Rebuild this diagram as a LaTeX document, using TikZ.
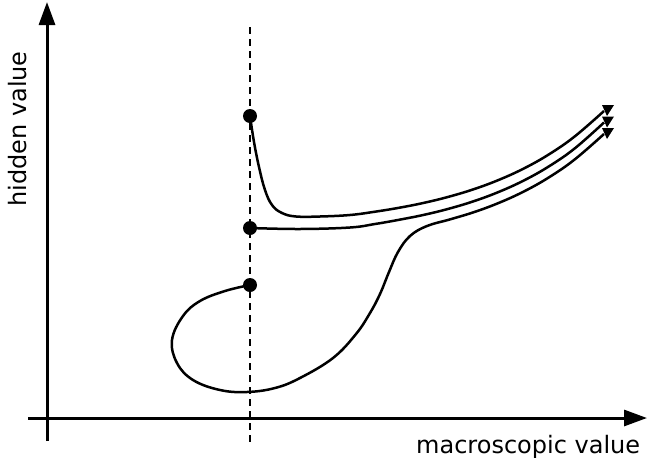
\documentclass[tikz,border=0pt]{standalone}
\usepackage{fontspec}
\setmainfont{DejaVu Sans}
\usetikzlibrary{arrows.meta}
\tikzset{
  axis/.style={line width=3pt,-{Triangle[length=23pt,width=16pt]}},
  curve/.style={line width=2.5pt,line join=round},
  dashv/.style={line width=2.2pt,dash pattern=on 7pt off 5pt},
  dot/.style={circle,fill=black,minimum size=14pt,inner sep=0pt},
  head/.style={fill=black},
  lbl/.style={font=\fontsize{24}{28}\selectfont,inner sep=0pt}
}
\begin{document}
\begin{tikzpicture}[x=1pt,y=-1pt]
\useasboundingbox (0,0) rectangle (648,461);
% axes
\coordinate (xs) at (28,418);
\coordinate (xe) at (647,418);
\coordinate (ys) at (47,441);
\coordinate (ye) at (47,2);
\draw[axis] (xs) -- (xe);
\draw[axis] (ys) -- (ye);
\node[lbl,anchor=base west] (xl) at (416,453) {macroscopic value};
\node[lbl,anchor=base west,rotate=90] (yl) at (27,207) {hidden value};
% dashed line
\coordinate (dt) at (250,27);
\coordinate (db) at (250,445);
\draw[dashv] (dt) -- (db);
% dots
\node[dot] (p1) at (250,116) {};
\node[dot] (p2) at (250,228) {};
\node[dot] (p3) at (250,285) {};
% ends
\coordinate (e1) at (604,111);
\coordinate (e2) at (604,122.5);
\coordinate (e3) at (604,134);
% curves
\draw[curve] plot[smooth,tension=0.65] coordinates {(p1.center) (254,142) (259,167) (265,190) (272,205) (282,213) (296,216.5) (320,216.5) (350,215) (375,211.7) (400,207.6) (425,202.6) (450,196.4) (475,188.8) (500,179.4) (525,167.9) (550,153.7) (575,136.2) (e1)};
\draw[curve] plot[smooth,tension=0.65] coordinates {(p2.center) (300,229) (350,227.5) (375,224) (400,219.6) (425,214.6) (450,208.4) (475,200.8) (500,191.4) (525,179.9) (550,165.7) (575,148.2) (e2)};
\draw[curve] plot[smooth,tension=0.65] coordinates {(p3.center) (225,291) (200,301) (183,316) (172,340) (177,363) (193,380) (220,390) (247,392) (275,388) (300,378) (333,358) (356,334) (370,313) (380,294) (389,272) (398,252) (410,236) (427,226) (450,219.4) (475,211.8) (500,202.4) (525,190.9) (550,176.7) (575,159.2) (e3)};
% arrow heads
\foreach \c in {e1,e2,e3}{
  \fill[head] (\c) ++(-2,-6) -- ++(12,0) -- ++(-7,11) -- cycle;
}
\end{tikzpicture}
\end{document}
